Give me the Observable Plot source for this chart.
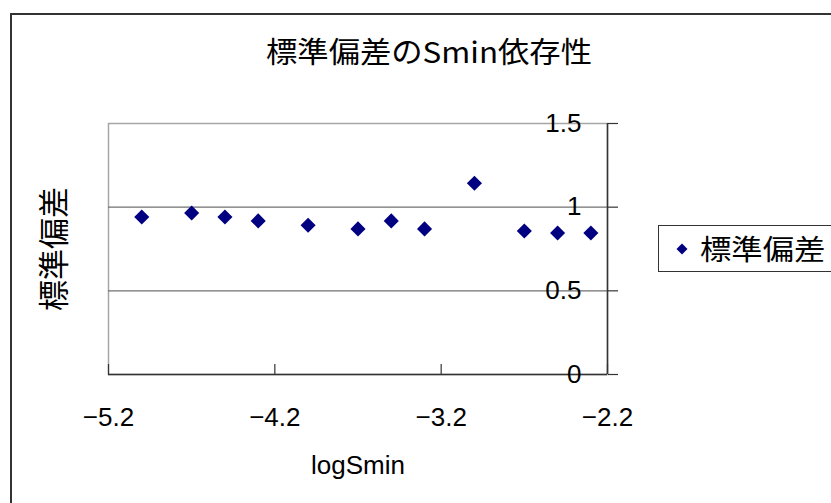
<!DOCTYPE html>
<html><head><meta charset="utf-8">
<script src="https://cdn.jsdelivr.net/npm/d3@7"></script>
<script src="https://cdn.jsdelivr.net/npm/@observablehq/plot@0.6"></script>
<style>
body{margin:0;background:#fff;}
#wrap{position:relative;width:831px;height:503px;overflow:hidden;background:#fff;}
#chart{position:absolute;left:0;top:0;}
#frame{position:absolute;left:10px;top:13px;width:900px;height:600px;border-left:2px solid #333;border-top:2px solid #333;pointer-events:none;}
#title{position:absolute;left:179px;width:500px;top:31px;text-align:center;font-family:"Noto Sans CJK JP",sans-serif;font-size:29px;line-height:38px;color:#000;transform:scaleX(1.08);}
#legend{position:absolute;left:658px;top:225px;width:220px;height:45px;border:1px solid #333;background:#fff;font-family:"Noto Sans CJK JP",sans-serif;font-size:28px;line-height:45px;color:#000;white-space:nowrap;}
#legend svg{position:absolute;left:16px;top:16px;}
#legend span{position:absolute;left:41px;top:0;display:inline-block;transform-origin:left center;transform:scaleX(1.12);}
</style>
</head><body>
<div id="wrap">
  <div id="chart"></div>
  <div id="frame"></div>
  <div id="title"></div>
  <div id="legend"></div>
</div>
<script>
const titleText = "標準偏差のSmin依存性";
const seriesName = "標準偏差";
const xLabel = "logSmin";
const logSmin = [-5.0, -4.7, -4.5, -4.3, -4.0, -3.7, -3.5, -3.3, -3.0, -2.7, -2.5, -2.3];
const stdev   = [0.941, 0.965, 0.941, 0.918, 0.892, 0.870, 0.918, 0.870, 1.143, 0.858, 0.846, 0.846];
const xTicks = [-5.2, -4.2, -3.2, -2.2];
const yTicks = [0, 0.5, 1, 1.5];
const yGrid = [0.5, 1];
const xDomain = [-5.2, -2.2];
const yDomain = [0, 1.5];

const data = logSmin.map((x, i) => ({x, y: stdev[i]}));
const latin = "'Liberation Sans', 'Noto Sans CJK JP', sans-serif";
const cjk = "'Noto Sans CJK JP', sans-serif";

const chart = Plot.plot({
  width: 831, height: 503,
  marginLeft: 108, marginRight: 224, marginTop: 123, marginBottom: 129,
  x: {domain: xDomain},
  y: {domain: yDomain},
  style: {fontFamily: latin, background: "transparent", color: "#000"},
  marks: [
    Plot.frame({stroke: "#a6a6a6", strokeWidth: 1.5}),
    Plot.gridY(yGrid, {stroke: "#707070", strokeOpacity: 1, strokeWidth: 1.2}),
    Plot.ruleY([yDomain[0]], {stroke: "#333", strokeWidth: 1.5}),
    Plot.ruleX([xDomain[1]], {stroke: "#333", strokeWidth: 1.5}),
    // inward x ticks (10px)
    Plot.tickX(xTicks, {x: d => d, insetTop: 241, stroke: "#333", strokeWidth: 1.2}),
    Plot.axisX(xTicks, {tickSize: 0, tickPadding: 33, label: null, fontSize: 26, fill: "#000"}),
    // outward y ticks on the right
    Plot.axisY(yTicks, {anchor: "right", tickSize: 10, tickFormat: () => "", label: null, stroke: "#333", strokeWidth: 1.2}),
    Plot.axisY(yTicks, {anchor: "right", tickSize: 0, tickPadding: 0, textAnchor: "end", dx: -26, tickFormat: d => String(d), label: null, fontSize: 26, fill: "#000"}),
    Plot.dot(data, {x: "x", y: "y", symbol: "diamond2", r: 6.8, fill: "#000080", stroke: "none"}),
    Plot.text([seriesName], {frameAnchor: "left", textAnchor: "middle", dx: -53, rotate: -90, fontSize: 31, fontFamily: cjk, fill: "#000"}),
    Plot.text([xLabel], {frameAnchor: "bottom", dy: 99, fontSize: 26, fill: "#000"})
  ]
});
document.getElementById("chart").appendChild(chart);
document.getElementById("title").textContent = titleText;
document.getElementById("legend").innerHTML =
  '<svg width="14" height="14" viewBox="-7 -7 14 14"><path d="M0,-5.5L5.5,0L0,5.5L-5.5,0Z" fill="#000080"/></svg><span></span>';
document.querySelector("#legend span").textContent = seriesName;
</script>
</body></html>
